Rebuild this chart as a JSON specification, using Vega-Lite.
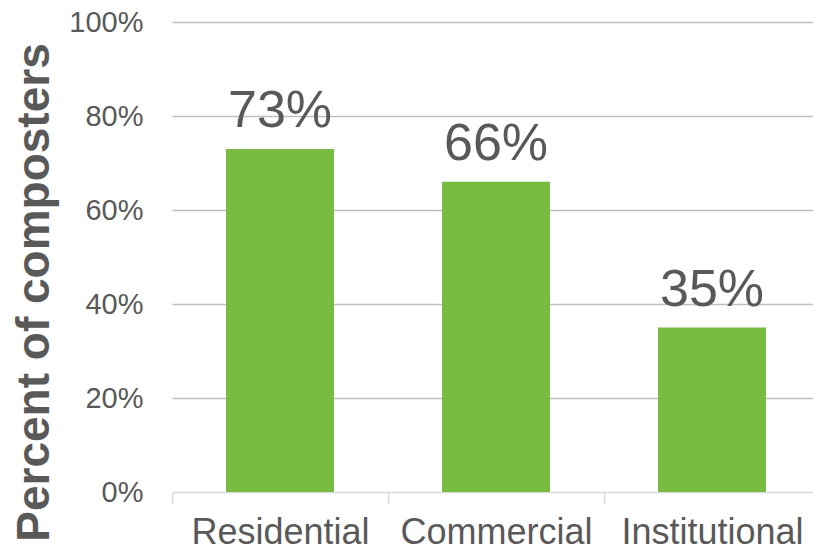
{
  "$schema": "https://vega.github.io/schema/vega-lite/v6.json",
  "autosize": "none",
  "padding": {"left": 172, "top": 22, "right": 0, "bottom": 61},
  "width": 648,
  "height": 470,
  "background": "white",
  "data": {"values": [
    {"sector": "Residential", "share": 0.73},
    {"sector": "Commercial", "share": 0.66},
    {"sector": "Institutional", "share": 0.35}
  ]},
  "config": {
    "view": {"stroke": null},
    "font": "Liberation Sans"
  },
  "encoding": {
    "x": {
      "field": "sector", "type": "nominal", "sort": null,
      "scale": {"paddingInner": 0.5, "paddingOuter": 0.25},
      "axis": {
        "title": null, "labelAngle": 0,
        "labelFontSize": 36, "labelColor": "#595959", "labelFont": "Liberation Sans",
        "labelPadding": 12, "labelLimit": 0, "labelOverlap": false, "labelOffset": 108,
        "domainColor": "#D9D9D9", "domainWidth": 1.5,
        "tickColor": "#D9D9D9", "tickWidth": 1.5, "tickSize": 11, "tickOffset": -108,
        "grid": false
      }
    },
    "y": {
      "field": "share", "type": "quantitative",
      "scale": {"domain": [0, 1], "nice": false},
      "axis": {
        "title": "Percent of composters",
        "titleFont": "Liberation Sans", "titleFontSize": 46, "titleFontWeight": "bold",
        "titleColor": "#595959", "titleAngle": -90,
        "titleX": -124, "titleY": 270, "titleAlign": "center", "titleBaseline": "alphabetic",
        "values": [0, 0.2, 0.4, 0.6, 0.8, 1],
        "format": ".0%",
        "labelFontSize": 29, "labelColor": "#595959", "labelFont": "Liberation Sans",
        "labelPadding": 29,
        "domain": false, "ticks": false,
        "grid": true, "gridColor": "#BFBFBF", "gridWidth": 1.5,
        "gridOpacity": {"condition": {"test": "datum.value === 0", "value": 0}, "value": 1}
      }
    }
  },
  "layer": [
    {"mark": {"type": "bar", "color": "#77BB41"}},
    {
      "mark": {"type": "text", "fontSize": 52, "color": "#595959", "baseline": "alphabetic", "dy": -22, "font": "Liberation Sans"},
      "encoding": {"text": {"field": "share", "type": "quantitative", "format": ".0%"}}
    }
  ]
}
